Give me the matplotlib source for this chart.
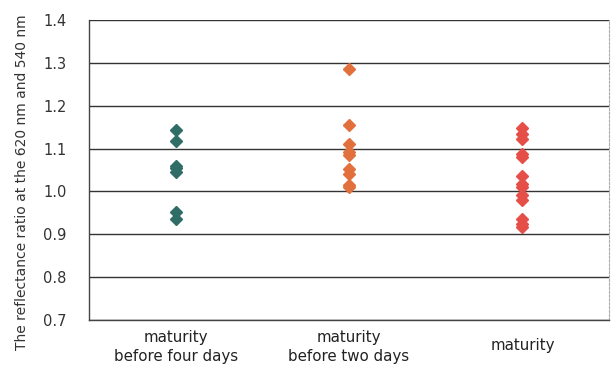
import numpy as np
import matplotlib
matplotlib.use("Agg")
import matplotlib.pyplot as plt
import matplotlib.transforms as mtransforms

plt.rcParams['font.family'] = ['DejaVu Sans']

# reflectance ratio (620 nm / 540 nm) per ripening stage
categories = ['maturity\nbefore four days', 'maturity\nbefore two days', 'maturity']
four_days = [1.143, 1.118, 1.060, 1.055, 1.045, 0.953, 0.936]
two_days = [1.285, 1.155, 1.110, 1.092, 1.085, 1.052, 1.040, 1.016, 1.010]
ripe = [1.148, 1.135, 1.122, 1.088, 1.080, 1.036, 1.018, 1.010,
        0.992, 0.980, 0.935, 0.925, 0.918]
colors = ['#2f6d66', '#e2703c', '#e64f48']
yticks = [0.7, 0.8, 0.9, 1.0, 1.1, 1.2, 1.3, 1.4]

fig = plt.figure(figsize=(6.14, 3.72), dpi=100)
ax = fig.add_axes([0.145, 0.140, 0.847, 0.806])

for i, (vals, c) in enumerate(zip([four_days, two_days, ripe], colors)):
    ax.plot(np.full(len(vals), i + 1), vals, linestyle='none', marker='D',
            markersize=6.5, color=c, markeredgecolor=c, zorder=3)

ax.set_xlim(0.5, 3.5)
ax.set_ylim(0.7, 1.4)
ax.set_yticks(yticks)
ax.set_yticklabels([f'{v:.1f}' for v in yticks], fontsize=10.5, color='#333333')
ax.set_xticks([1, 2, 3])
ax.set_xticklabels(categories, fontsize=10.8, color='#222222', linespacing=1.35)
ax.tick_params(axis='both', length=0)
ax.tick_params(axis='y', pad=16)
ax.tick_params(axis='x', pad=7)

# single-line label sits midway between the two-line ones
lbl = ax.get_xticklabels()[2]
lbl.set_transform(lbl.get_transform() +
                  mtransforms.ScaledTranslation(0, -6 / 72, fig.dpi_scale_trans))

ax.yaxis.grid(True, color='#333333', linewidth=1.0)
ax.set_axisbelow(True)
for side in ['left', 'bottom']:
    ax.spines[side].set_color('#444444')
    ax.spines[side].set_linewidth(1.0)
ax.spines['top'].set_visible(False)
ax.spines['right'].set_color('#aaaaaa')
ax.spines['right'].set_linestyle((0, (2, 1.5)))
ax.spines['right'].set_linewidth(0.8)

ax.set_ylabel('The reflectance ratio at the 620 nm and 540 nm',
              fontsize=10, color='#333333')
ax.yaxis.set_label_coords(-0.115, 0.46)

fig.savefig('out.png', dpi=100)
